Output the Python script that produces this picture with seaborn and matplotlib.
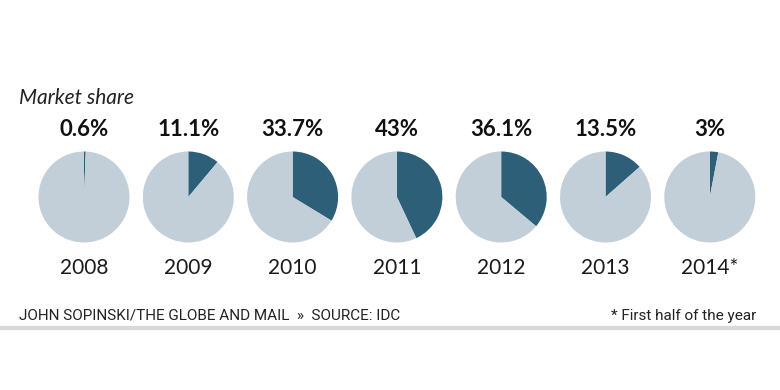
import matplotlib
matplotlib.use("Agg")
import matplotlib.pyplot as plt
import seaborn as sns

# data
years = ["2008", "2009", "2010", "2011", "2012", "2013", "2014*"]
share = [0.6, 11.1, 33.7, 43, 36.1, 13.5, 3]
share_labels = ["0.6%", "11.1%", "33.7%", "43%", "36.1%", "13.5%", "3%"]

DARK = "#2e5f78"
LIGHT = "#c2cfd9"

sns.set_theme(style="white")
plt.rcParams["font.family"] = ["Lato", "DejaVu Sans"]

fig = plt.figure(figsize=(7.8, 3.9), dpi=100)
ax = fig.add_axes([0, 0, 1, 1])

x0, step = 84, 104.3
cy = 390 - 197
r = 45.5
for i, (yr, v, lab) in enumerate(zip(years, share, share_labels)):
    cx = x0 + i * step
    ax.pie([v, 100 - v], colors=[DARK, LIGHT], startangle=90, counterclock=False,
           center=(cx, cy), radius=r, frame=True,
           wedgeprops=dict(linewidth=0))
    ax.text(cx, 390 - 129, lab, ha="center", va="center", fontsize=16,
            fontweight="bold", color="#111111")
    ax.text(cx, 390 - 268, yr, ha="center", va="center", fontsize=15,
            color="#1a1a1a")

ax.set_xlim(0, 780)
ax.set_ylim(0, 390)
ax.set_aspect("equal")
ax.axis("off")

ax.text(19, 390 - 98, "Market share", ha="left", va="center", fontsize=15,
        fontstyle="italic", color="#222222")

foot = ["Roboto", "DejaVu Sans"]
ax.text(19, 390 - 316, "JOHN SOPINSKI/THE GLOBE AND MAIL  \u00bb  SOURCE: IDC",
        ha="left", va="center", fontsize=11, family=foot, color="#222222")
ax.text(756, 390 - 316, "* First half of the year", ha="right", va="center",
        fontsize=11, family=foot, color="#222222")
ax.plot([0, 780], [390 - 328, 390 - 328], color="#d9d9d9", lw=3,
        solid_capstyle="butt")

fig.savefig("out.png", dpi=100)
